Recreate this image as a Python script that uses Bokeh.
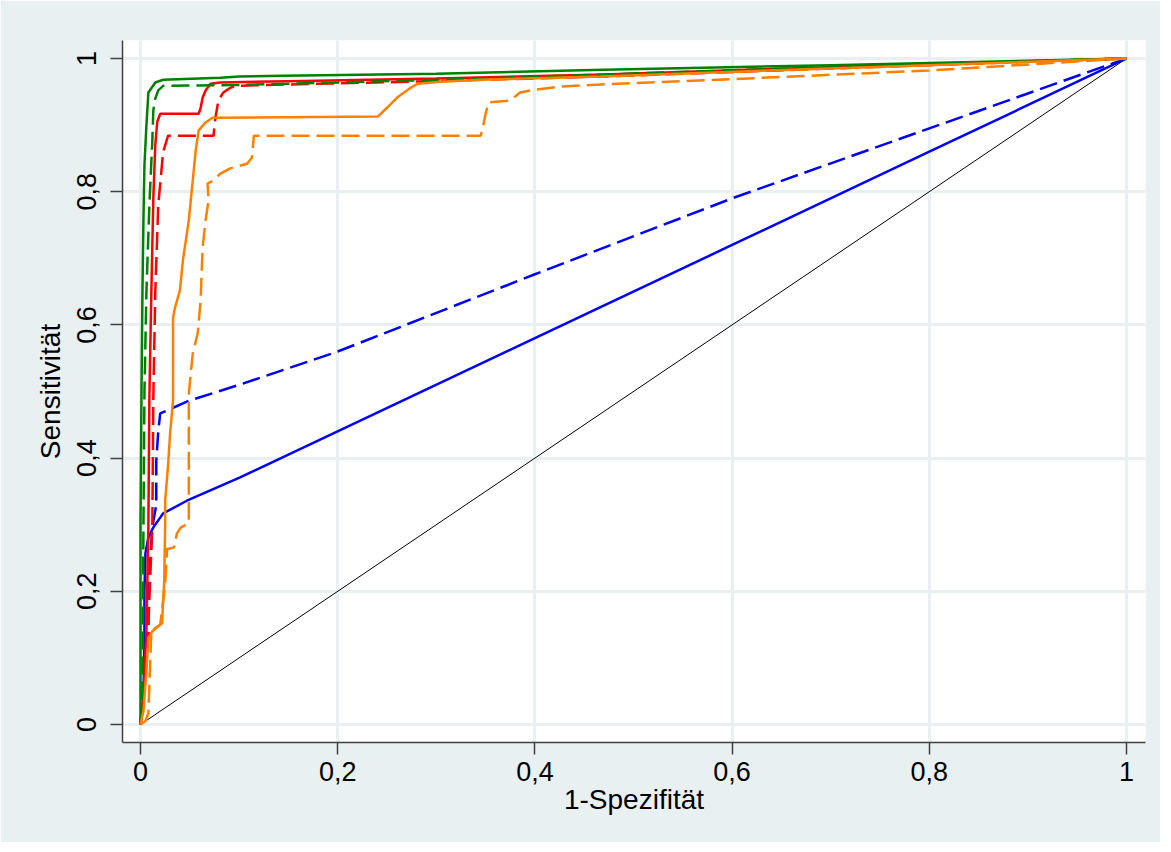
from bokeh.plotting import figure
from bokeh.models import Range1d, FixedTicker
from bokeh.embed import file_html
from bokeh.resources import INLINE

# ---------------- data ----------------
TICK_VALUES = [0, 0.2, 0.4, 0.6, 0.8, 1]
TICK_LABELS = ["0", "0,2", "0,4", "0,6", "0,8", "1"]
X_TITLE = "1-Spezifität"
Y_TITLE = "Sensitivität"

diag_x = [0, 1]
diag_y = [0, 1]

blue_solid_x = [0, 0.003, 0.004, 0.004, 0.005, 0.008, 0.013, 0.023, 0.047, 0.101, 0.4, 0.6, 0.8, 1.0]
blue_solid_y = [0, 0.04, 0.14, 0.20, 0.257, 0.281, 0.296, 0.317, 0.336, 0.371, 0.58, 0.72, 0.86, 1.0]

blue_dash_x = [0, 0.001, 0.003, 0.008, 0.008, 0.012, 0.016, 0.016, 0.018, 0.020, 0.049, 0.1, 0.2, 0.4, 0.6, 0.8, 1.0]
blue_dash_y = [0, 0.02, 0.036, 0.137, 0.20, 0.296, 0.33, 0.396, 0.44, 0.467, 0.486, 0.51, 0.56, 0.676, 0.79, 0.895, 1.0]

red_solid_x = [0, 0.003, 0.006, 0.008, 0.009, 0.011, 0.013, 0.015, 0.017, 0.020, 0.059, 0.061, 0.063,
               0.066, 0.071, 0.081, 0.15, 0.3, 0.47, 0.7, 1.0]
red_solid_y = [0, 0.04, 0.14, 0.30, 0.49, 0.65, 0.79, 0.87, 0.905, 0.917, 0.917, 0.926, 0.941,
               0.952, 0.962, 0.964, 0.966, 0.970, 0.976, 0.987, 1.0]

red_dash_x = [0, 0.004, 0.008, 0.012, 0.013, 0.015, 0.018, 0.020, 0.023, 0.028, 0.074, 0.076, 0.079,
              0.084, 0.091, 0.096, 0.15, 0.3, 0.47, 0.7, 1.0]
red_dash_y = [0, 0.05, 0.15, 0.30, 0.49, 0.65, 0.78, 0.812, 0.86, 0.884, 0.884, 0.911, 0.937,
              0.949, 0.956, 0.959, 0.961, 0.966, 0.973, 0.985, 1.0]

green_solid_x = [0, 0.0, 0.001, 0.002, 0.003, 0.004, 0.006, 0.008, 0.015, 0.023, 0.081, 0.10, 0.145,
                 0.3, 0.47, 0.7, 1.0]
green_solid_y = [0, 0.30, 0.50, 0.65, 0.76, 0.84, 0.90, 0.949, 0.964, 0.968, 0.971, 0.973, 0.974,
                 0.977, 0.983, 0.990, 1.0]

green_dash_x = [0, 0.002, 0.003, 0.004, 0.006, 0.009, 0.012, 0.013, 0.015, 0.018, 0.023, 0.09, 0.15,
                0.3, 0.47, 0.7, 1.0]
green_dash_y = [0, 0.05, 0.30, 0.50, 0.65, 0.78, 0.877, 0.922, 0.94, 0.952, 0.959, 0.960, 0.962,
                0.968, 0.976, 0.987, 1.0]

orange_solid_x = [0, 0.003, 0.006, 0.008, 0.012, 0.020, 0.022, 0.023, 0.024, 0.025, 0.025, 0.028,
                  0.030, 0.033, 0.033, 0.035, 0.040, 0.043, 0.047, 0.049, 0.051, 0.053, 0.056,
                  0.059, 0.066, 0.073, 0.241, 0.25, 0.26, 0.274, 0.281, 0.304, 0.345, 0.467, 0.7, 1.0]
orange_solid_y = [0, 0.02, 0.08, 0.13, 0.14, 0.15, 0.152, 0.19, 0.212, 0.30, 0.336, 0.39,
                  0.437, 0.486, 0.61, 0.626, 0.652, 0.697, 0.737, 0.757, 0.787, 0.817, 0.862,
                  0.892, 0.904, 0.911, 0.913, 0.926, 0.941, 0.956, 0.962, 0.965, 0.968, 0.973, 0.985, 1.0]

orange_dash_x = [0, 0.005, 0.008, 0.011, 0.020, 0.025, 0.027, 0.029, 0.034, 0.037, 0.041, 0.049,
                 0.049, 0.053, 0.058, 0.061, 0.063, 0.066, 0.069, 0.068, 0.074, 0.081, 0.091, 0.108,
                 0.113, 0.115, 0.345, 0.347, 0.350, 0.353, 0.375, 0.385, 0.399, 0.426, 0.467, 0.6, 0.8, 1.0]
orange_dash_y = [0, 0.005, 0.017, 0.141, 0.15, 0.21, 0.264, 0.264, 0.266, 0.287, 0.296, 0.302,
                 0.497, 0.557, 0.587, 0.637, 0.716, 0.757, 0.787, 0.812, 0.817, 0.827, 0.835, 0.842,
                 0.851, 0.884, 0.884, 0.895, 0.917, 0.934, 0.937, 0.949, 0.953, 0.958, 0.961, 0.969, 0.982, 1.0]

# ---------------- figure ----------------
BG = "#e8f0f2"
FONT = "Liberation Sans"

p = figure(width=1160, height=842, output_backend="svg", toolbar_location=None,
           x_range=Range1d(-0.01826, 1.01927), y_range=Range1d(-0.027, 1.027),
           min_border_left=122, min_border_right=15, min_border_top=40, min_border_bottom=100)
p.border_fill_color = BG
p.background_fill_color = "white"
p.outline_line_color = None

for g in (p.xgrid[0], p.ygrid[0]):
    g.grid_line_color = BG
    g.grid_line_width = 3
    g.ticker = FixedTicker(ticks=TICK_VALUES)

overrides = dict(zip(TICK_VALUES, TICK_LABELS))
for ax in (p.xaxis[0], p.yaxis[0]):
    ax.ticker = FixedTicker(ticks=TICK_VALUES)
    ax.major_label_overrides = overrides
    ax.axis_line_color = "#404040"
    ax.axis_line_width = 1.5
    ax.major_tick_line_color = "#404040"
    ax.major_tick_line_width = 1.5
    ax.major_tick_in = 0
    ax.major_tick_out = 12
    ax.minor_tick_line_color = None
    ax.major_label_text_font = FONT
    ax.major_label_text_font_size = "27px"
    ax.major_label_text_color = "black"
    ax.axis_label_text_font = FONT
    ax.axis_label_text_font_size = "28px"
    ax.axis_label_text_font_style = "normal"
    ax.axis_label_text_color = "black"

p.xaxis[0].axis_label = X_TITLE
p.yaxis[0].axis_label = Y_TITLE
p.xaxis[0].major_label_standoff = 7
p.yaxis[0].major_label_standoff = 14
p.xaxis[0].axis_label_standoff = 0
p.yaxis[0].axis_label_standoff = 9
p.yaxis[0].major_label_orientation = "vertical"

LW = 2.5
DASH = "18 7"
p.line(diag_x, diag_y, line_color="black", line_width=1)
p.line(blue_solid_x, blue_solid_y, line_color="#0000ff", line_width=LW)
p.line(blue_dash_x, blue_dash_y, line_color="#0000ff", line_width=LW, line_dash=DASH)
p.line(red_solid_x, red_solid_y, line_color="#ff0000", line_width=LW)
p.line(red_dash_x, red_dash_y, line_color="#ff0000", line_width=LW, line_dash=DASH)
p.line(green_solid_x, green_solid_y, line_color="#008000", line_width=LW)
p.line(green_dash_x, green_dash_y, line_color="#008000", line_width=LW, line_dash=DASH)
p.line(orange_solid_x, orange_solid_y, line_color="#ff8000", line_width=LW)
p.line(orange_dash_x, orange_dash_y, line_color="#ff8000", line_width=LW, line_dash=DASH)

open("out.html", "w").write(file_html(p, INLINE))
